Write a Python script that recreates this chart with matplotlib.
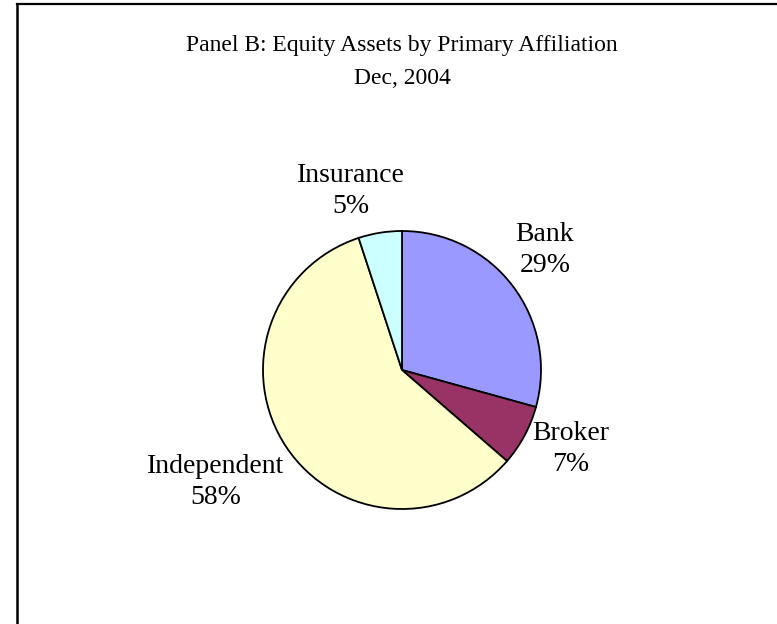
import matplotlib
matplotlib.use("Agg")
import matplotlib.pyplot as plt
from matplotlib.lines import Line2D

categories = ["Bank", "Broker", "Independent", "Insurance"]
values = [29, 7, 58, 5]
colors = ["#9999FF", "#993366", "#FFFFCC", "#CCFFFF"]
title_lines = ["Panel B: Equity Assets by Primary Affiliation", "Dec, 2004"]

W, H = 777, 624
fig = plt.figure(figsize=(W / 100, H / 100), dpi=100)
ax = fig.add_axes([0, 0, 1, 1])

R = 139.0
cx, cy = 402.0, 370.0  # pixel position of pie centre (from top)

ax.pie(values, colors=colors, startangle=90, counterclock=False,
       radius=1.0, wedgeprops=dict(edgecolor="black", linewidth=1.3))
ax.set_aspect("auto")
ax.set_xlim(-cx / R, (W - cx) / R)
ax.set_ylim(-(H - cy) / R, cy / R)
ax.axis("off")


def px(x, y):
    return (x - cx) / R, (cy - y) / R


label_pos = {
    "Bank": (545, 250),
    "Broker": (571, 449),
    "Independent": (216, 482),
    "Insurance": (351, 191),
}
font = ["Liberation Serif", "DejaVu Serif"]
for name, v in zip(categories, values):
    x, y = px(*label_pos[name])
    ax.text(x, y, f"{name}\n{v}%", ha="center", va="center", fontsize=20,
            family=font, linespacing=1.34)

tx, ty = px(402, 62)
ax.text(tx, ty, "\n".join(title_lines), ha="center", va="center",
        fontsize=17, family=font, linespacing=1.8)

# border (cropped on right and bottom)
fig.add_artist(Line2D([17 / W, 1.0], [1 - 3.5 / H, 1 - 3.5 / H],
                      transform=fig.transFigure, color="black", linewidth=1.6))
fig.add_artist(Line2D([17 / W, 17 / W], [0.0, 1 - 3.5 / H],
                      transform=fig.transFigure, color="black", linewidth=1.8))

fig.savefig("out.png", dpi=100)
